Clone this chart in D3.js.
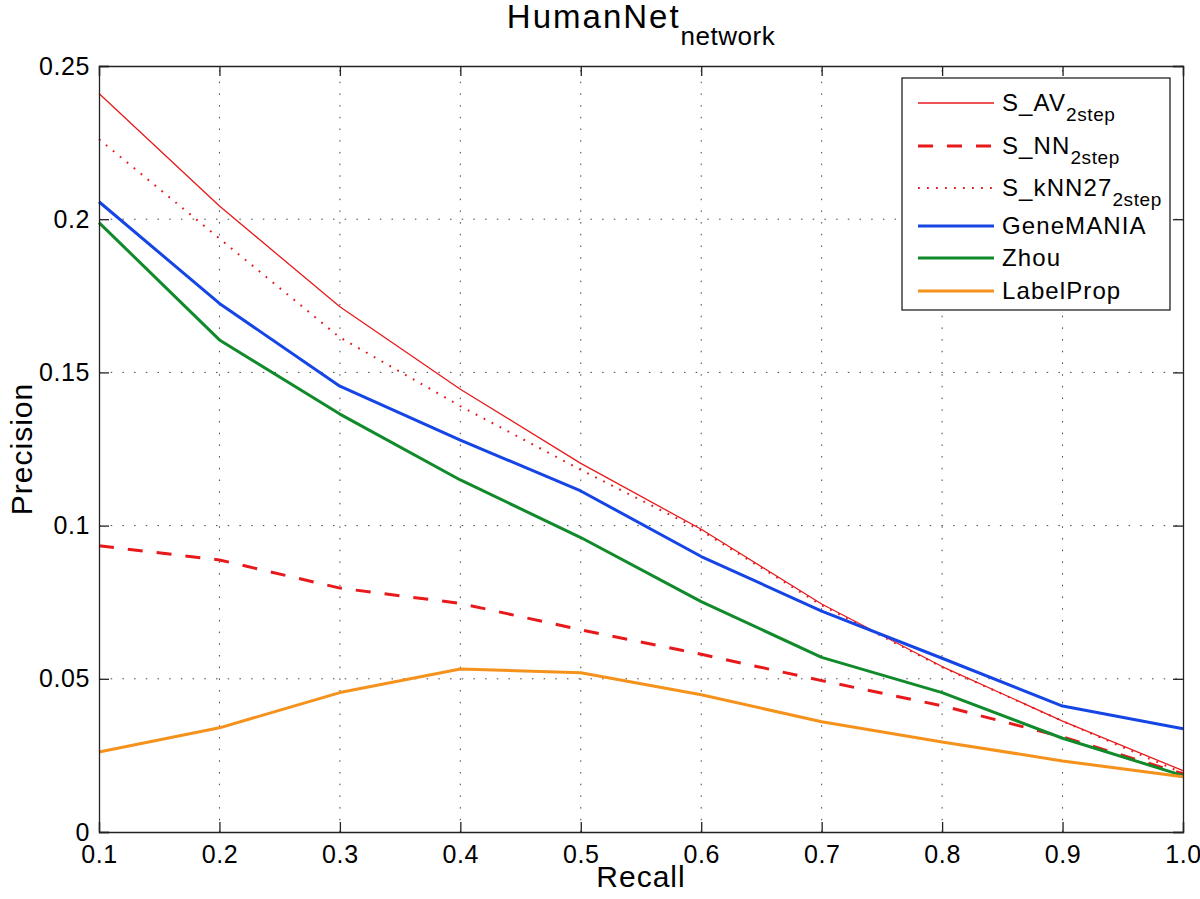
<!DOCTYPE html>
<html>
<head>
<meta charset="utf-8">
<script src="https://cdn.jsdelivr.net/npm/d3@7"></script>
<style>
  body { margin: 0; background: #fff; }
  svg { font-family: "Liberation Sans", Arial, Helvetica, sans-serif; }
</style>
</head>
<body>
<div id="chart"></div>
<script>
const recall = [0.1, 0.2, 0.3, 0.4, 0.5, 0.6, 0.7, 0.8, 0.9, 1.0];
const sAV = [0.241, 0.2043, 0.1714, 0.1445, 0.1203, 0.0988, 0.0744, 0.054, 0.0362, 0.0200];
const sNN = [0.0934, 0.0888, 0.0796, 0.0746, 0.0660, 0.0580, 0.0494, 0.0412, 0.0310, 0.0190];
const sKNN = [0.2261, 0.1937, 0.1614, 0.139, 0.1182, 0.0984, 0.0740, 0.0538, 0.0362, 0.0192];
const geneMANIA = [0.2057, 0.1725, 0.1455, 0.1279, 0.1113, 0.0899, 0.0721, 0.0567, 0.0411, 0.0337];
const zhou = [0.1989, 0.1606, 0.1364, 0.1149, 0.0961, 0.0752, 0.0570, 0.0455, 0.0306, 0.0184];
const labelProp = [0.0261, 0.0340, 0.0455, 0.0532, 0.0520, 0.0448, 0.0360, 0.0294, 0.0232, 0.0180];
const xTicks = [0.1, 0.2, 0.3, 0.4, 0.5, 0.6, 0.7, 0.8, 0.9, 1.0];
const yTicks = [0, 0.05, 0.1, 0.15, 0.2, 0.25];

const series = [
  { name: 'S_AV', sub: '2step', values: sAV, color: '#e8191b', width: 1.3, dash: null },
  { name: 'S_NN', sub: '2step', values: sNN, color: '#e8191b', width: 3, dash: '15,14' },
  { name: 'S_kNN27', sub: '2step', values: sKNN, color: '#e8191b', width: 2, dash: '1.8,7.2' },
  { name: 'GeneMANIA', sub: null, values: geneMANIA, color: '#1645e6', width: 3, dash: null },
  { name: 'Zhou', sub: null, values: zhou, color: '#108a2a', width: 3, dash: null },
  { name: 'LabelProp', sub: null, values: labelProp, color: '#f5921c', width: 3, dash: null }
];

const w = 1200, h = 899;
const m = { left: 99, right: 17, top: 66, bottom: 67 };
const svg = d3.select('#chart').append('svg').attr('width', w).attr('height', h);

const x = d3.scaleLinear().domain([0.1, 1.0]).range([m.left, w - m.right]);
const y = d3.scaleLinear().domain([0, 0.25]).range([h - m.bottom, m.top]);

// grid
const grid = svg.append('g').attr('stroke', '#444').attr('stroke-width', 1).attr('stroke-dasharray', '1.5,10.2');
grid.selectAll('.gx').data(xTicks.slice(1, -1)).enter().append('line')
  .attr('x1', d => x(d)).attr('x2', d => x(d)).attr('y1', y(0)).attr('y2', y(0.25));
grid.selectAll('.gy').data(yTicks.slice(1, -1)).enter().append('line')
  .attr('y1', d => y(d)).attr('y2', d => y(d)).attr('x1', x(0.1)).attr('x2', x(1.0));

// lines
const line = d3.line().x((d, i) => x(recall[i])).y(d => y(d));
series.forEach(s => {
  svg.append('path').datum(s.values)
    .attr('d', line)
    .attr('fill', 'none')
    .attr('stroke', s.color)
    .attr('stroke-width', s.width)
    .attr('stroke-dasharray', s.dash)
    .attr('stroke-linejoin', 'round');
});

// axes (ticks inside, box)
const tick = 10;
const xAxis = d3.axisBottom(x).tickValues(xTicks).tickSize(-tick).tickPadding(14)
  .tickFormat(d => d3.format('.1f')(d));
const yAxis = d3.axisLeft(y).tickValues(yTicks).tickSize(-tick).tickPadding(9)
  .tickFormat(d => d === 0 ? '0' : String(+d.toFixed(2)));
const gx = svg.append('g').attr('transform', 'translate(0,' + y(0) + ')').call(xAxis);
const gy = svg.append('g').attr('transform', 'translate(' + x(0.1) + ',0)').call(yAxis);
svg.append('g').attr('transform', 'translate(0,' + y(0.25) + ')')
  .call(d3.axisTop(x).tickValues(xTicks).tickSize(-tick).tickFormat(''));
svg.append('g').attr('transform', 'translate(' + x(1.0) + ',0)')
  .call(d3.axisRight(y).tickValues(yTicks).tickSize(-tick).tickFormat(''));
svg.selectAll('.domain').attr('stroke', '#222').attr('stroke-width', 1.3);
svg.selectAll('.tick line').attr('stroke', '#222').attr('stroke-width', 1.3);
gx.selectAll('text').attr('font-size', 25).attr('letter-spacing', 0.6).attr('fill', '#000').attr('dy', '0.68em');
gy.selectAll('text').attr('font-size', 25).attr('letter-spacing', 0.6).attr('fill', '#000');

// title
const title = svg.append('text').attr('x', 641).attr('y', 28).attr('text-anchor', 'middle').attr('fill', '#000');
title.append('tspan').attr('font-size', 33).attr('letter-spacing', 2).text('HumanNet');
title.append('tspan').attr('font-size', 26).attr('letter-spacing', 0.5).attr('dy', 17).text('network');

// axis labels
svg.append('text').attr('x', 641).attr('y', 887).attr('text-anchor', 'middle')
  .attr('font-size', 30).attr('letter-spacing', 1).attr('fill', '#000').text('Recall');
svg.append('text').attr('transform', 'translate(32,' + ((y(0) + y(0.25)) / 2) + ') rotate(-90)')
  .attr('text-anchor', 'middle').attr('font-size', 30).attr('letter-spacing', 1).attr('fill', '#000').text('Precision');

// legend
const lg = svg.append('g');
lg.append('rect').attr('x', 902).attr('y', 78).attr('width', 268).attr('height', 232)
  .attr('fill', '#fff').attr('stroke', '#222').attr('stroke-width', 1.3);
const rowY = [103, 146, 188, 226, 258, 291];
series.forEach((s, i) => {
  lg.append('line').attr('x1', 918).attr('x2', 994).attr('y1', rowY[i]).attr('y2', rowY[i])
    .attr('stroke', s.color).attr('stroke-width', s.width).attr('stroke-dasharray', s.dash);
  const t = lg.append('text').attr('x', 1002).attr('y', rowY[i] + 8).attr('font-size', 24)
    .attr('letter-spacing', 1.1).attr('fill', '#000');
  t.append('tspan').text(s.name);
  if (s.sub) t.append('tspan').attr('font-size', 19).attr('letter-spacing', 0.6).attr('dy', 10).text(s.sub);
});
</script>
</body>
</html>
